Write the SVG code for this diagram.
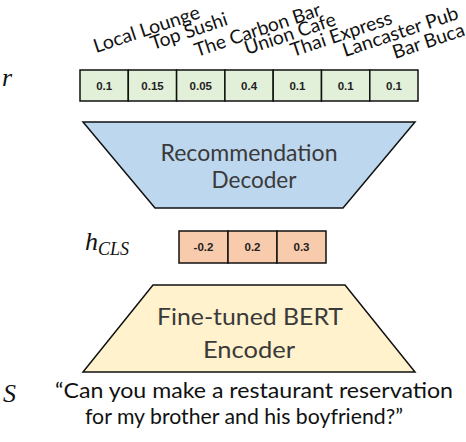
<svg xmlns="http://www.w3.org/2000/svg" width="466" height="442" viewBox="0 0 466 442">
  <style>
    .lbl { font-family: Lato, "Open Sans", "Liberation Sans", sans-serif; font-size: 19px; fill: #111; }
    .cell-g { fill: #E2F0D9; stroke: #111; stroke-width: 1.5; }
    .cell-o { fill: #F8CBAD; stroke: #111; stroke-width: 1.5; }
    .num { font-family: "Liberation Sans", Arial, sans-serif; font-size: 11.5px; font-weight: bold; fill: #222; text-anchor: middle; }
    .math { font-family: "Liberation Serif", "DejaVu Serif", serif; font-style: italic; fill: #111; }
    .big { font-family: Lato, "Open Sans", "Liberation Sans", sans-serif; font-size: 24px; fill: #3a3a3a; text-anchor: middle; }
    .quote { font-family: Lato, "Open Sans", "Liberation Sans", sans-serif; font-size: 21px; fill: #111; }
    .trap { stroke: #111; stroke-width: 1.5; }
  </style>

  <g id="labels">
    <text class="lbl" transform="translate(96,53) rotate(-18.5)" textLength="111" lengthAdjust="spacingAndGlyphs">Local Lounge</text>
    <text class="lbl" transform="translate(153,50) rotate(-18.5)" textLength="80" lengthAdjust="spacingAndGlyphs">Top Sushi</text>
    <text class="lbl" transform="translate(197,57) rotate(-18.5)" textLength="132" lengthAdjust="spacingAndGlyphs">The Carbon Bar</text>
    <text class="lbl" transform="translate(247,55) rotate(-18.5)" textLength="95" lengthAdjust="spacingAndGlyphs">Union Cafe</text>
    <text class="lbl" transform="translate(293,57) rotate(-18.5)" textLength="106" lengthAdjust="spacingAndGlyphs">Thai Express</text>
    <text class="lbl" transform="translate(345,57) rotate(-18.5)" textLength="121" lengthAdjust="spacingAndGlyphs">Lancaster Pub</text>
    <text class="lbl" transform="translate(395,59) rotate(-18.5)" textLength="75" lengthAdjust="spacingAndGlyphs">Bar Buca</text>
  </g>

  <text id="r-label" class="math" x="2" y="86" font-size="26">r</text>

  <g id="r-vector">
    <rect class="cell-g" x="80" y="70" width="48.3" height="31"/>
    <rect class="cell-g" x="128.3" y="70" width="48.3" height="31"/>
    <rect class="cell-g" x="176.6" y="70" width="48.3" height="31"/>
    <rect class="cell-g" x="224.9" y="70" width="48.3" height="31"/>
    <rect class="cell-g" x="273.2" y="70" width="48.3" height="31"/>
    <rect class="cell-g" x="321.5" y="70" width="48.3" height="31"/>
    <rect class="cell-g" x="369.8" y="70" width="48.2" height="31"/>
    <text class="num" x="104.2" y="89.5">0.1</text>
    <text class="num" x="152.5" y="89.5">0.15</text>
    <text class="num" x="200.8" y="89.5">0.05</text>
    <text class="num" x="249.1" y="89.5">0.4</text>
    <text class="num" x="297.4" y="89.5">0.1</text>
    <text class="num" x="345.7" y="89.5">0.1</text>
    <text class="num" x="394" y="89.5">0.1</text>
  </g>

  <g id="decoder">
    <polygon class="trap" fill="#BDD7EE" points="83,122 415,122 343,208 155,208"/>
    <text class="big" x="249" y="160.5" textLength="177" lengthAdjust="spacingAndGlyphs">Recommendation</text>
    <text class="big" x="254" y="187.5" textLength="85" lengthAdjust="spacingAndGlyphs">Decoder</text>
  </g>

  <text id="h-label" class="math" x="85" y="250" font-size="26">h<tspan font-size="18" dy="5">CLS</tspan></text>

  <g id="h-vector">
    <rect class="cell-o" x="179" y="231" width="49" height="32"/>
    <rect class="cell-o" x="228" y="231" width="49" height="32"/>
    <rect class="cell-o" x="277" y="231" width="49" height="32"/>
    <text class="num" x="203.5" y="251">-0.2</text>
    <text class="num" x="252.5" y="251">0.2</text>
    <text class="num" x="301.5" y="251">0.3</text>
  </g>

  <g id="encoder">
    <polygon class="trap" fill="#FFF2CC" points="153,285 345,285 415,372 83,372"/>
    <text class="big" x="250" y="325" textLength="186" lengthAdjust="spacingAndGlyphs">Fine-tuned BERT</text>
    <text class="big" x="249" y="358" textLength="92" lengthAdjust="spacingAndGlyphs">Encoder</text>
  </g>

  <text id="s-label" class="math" x="3" y="402" font-size="26">S</text>

  <g id="sentence">
    <text class="quote" x="55" y="398" textLength="398" lengthAdjust="spacingAndGlyphs">“Can you make a restaurant reservation</text>
    <text class="quote" x="85" y="424" textLength="318" lengthAdjust="spacingAndGlyphs">for my brother and his boyfriend?”</text>
  </g>

  <g id="connectors"></g>
</svg>
